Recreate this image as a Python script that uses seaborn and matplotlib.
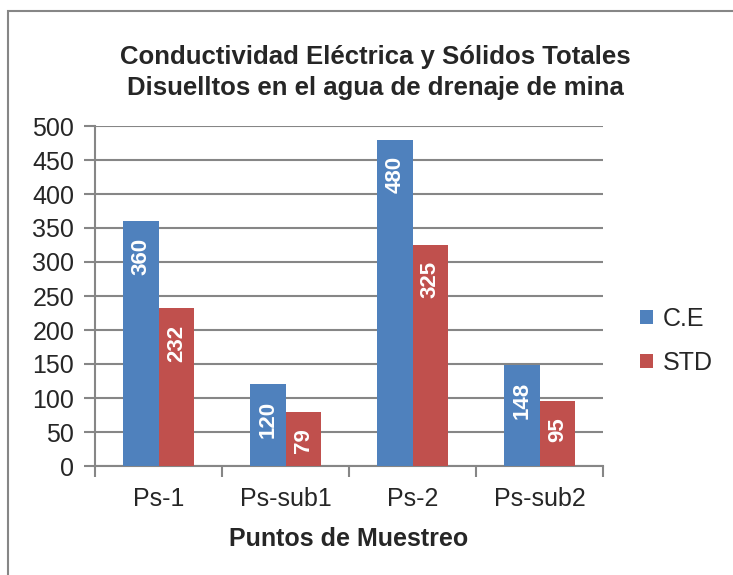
import pandas as pd
import matplotlib.pyplot as plt
import seaborn as sns
from matplotlib.patches import Rectangle

# datos del grafico
puntos = ['Ps-1', 'Ps-sub1', 'Ps-2', 'Ps-sub2']
ce = [360, 120, 480, 148]
std = [232, 79, 325, 95]
series = ['C.E', 'STD']
colores = ['#4F81BD', '#C0504D']

df = pd.DataFrame({
    'punto': puntos * 2,
    'valor': ce + std,
    'serie': [series[0]] * len(puntos) + [series[1]] * len(puntos),
})

sns.set_style('white')
plt.rcParams['font.family'] = ['Liberation Sans', 'DejaVu Sans']

fig = plt.figure(figsize=(7.33, 5.75), dpi=100)
ax = fig.add_axes([95 / 733, 1 - 466 / 575, 508 / 733, 340 / 575])

sns.barplot(data=df, x='punto', y='valor', hue='serie', palette=colores,
            width=0.56, saturation=1, ax=ax, zorder=3, legend=True,
            linewidth=0)

gris = '#868686'
ax.set_ylim(0, 500)
ax.set_xlim(-0.5, 3.5)
ax.set_yticks(range(0, 501, 50))
ax.yaxis.grid(True, color=gris, linewidth=1.5, zorder=0)
for s in ['top', 'right']:
    ax.spines[s].set_visible(False)
for s in ['left', 'bottom']:
    ax.spines[s].set_color(gris)
    ax.spines[s].set_linewidth(1.5)

ax.tick_params(axis='y', which='major', length=8, width=1.5, color=gris,
               labelsize=18, pad=7, left=True)
ax.tick_params(axis='x', which='major', length=0, labelsize=18, pad=15)
ax.set_xticks([-0.5, 0.5, 1.5, 2.5, 3.5], minor=True)
ax.tick_params(axis='x', which='minor', length=8, width=1.5, color=gris, bottom=True)

ax.set_xlabel('Puntos de Muestreo', fontsize=18, fontweight='bold', labelpad=12)
ax.set_ylabel('')

# etiquetas dentro de las barras
for cont in ax.containers:
    for bar in cont:
        h = bar.get_height()
        ax.text(bar.get_x() + bar.get_width() / 2, h - 24, f'{int(h)}',
                rotation=90, ha='center', va='top', color='white',
                fontsize=16, fontweight='bold', zorder=4)

ax.legend(loc='center left', bbox_to_anchor=(640 / 733, 1 - 341 / 575),
          bbox_transform=fig.transFigure, frameon=False,
          fontsize=18, handlelength=0.5, handleheight=0.5, labelspacing=0.8,
          handletextpad=0.4, borderpad=0, borderaxespad=0)

fig.text(0.512, 0.874, 'Conductividad Eléctrica y Sólidos Totales\nDisuelltos en el agua de drenaje de mina',
         ha='center', va='center', fontsize=18.5, fontweight='bold', linespacing=1.4)

# borde del area del grafico
fig.patches.append(Rectangle((8 / 733, -0.1), 1.2, 1 - 11 / 575 + 0.1,
                             transform=fig.transFigure, fill=False,
                             edgecolor=gris, linewidth=1.5))

fig.savefig('out.png', dpi=100)
